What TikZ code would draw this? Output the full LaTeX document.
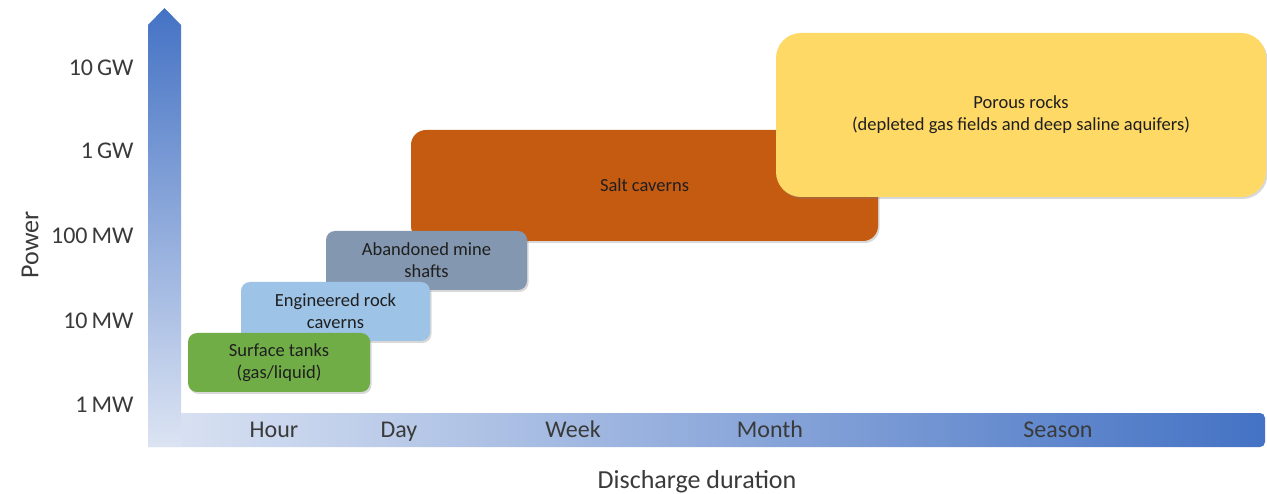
\documentclass[tikz,border=0pt]{standalone}
\usepackage{fontspec}
\setmainfont{Carlito}
\usetikzlibrary{shadows}

\definecolor{axisdark}{HTML}{4472C4}
\definecolor{axislight}{HTML}{DCE4F3}
\definecolor{tankgreen}{HTML}{70AD47}
\definecolor{rockblue}{HTML}{9DC3E6}
\definecolor{minegrey}{HTML}{8497B0}
\definecolor{saltorange}{HTML}{C55A11}
\definecolor{porousyellow}{HTML}{FFD966}
\definecolor{labelgrey}{HTML}{3A3A3A}

\tikzset{
  store/.style={rounded corners=9pt, align=center, text=black!88, inner sep=0pt,
    font=\fontsize{18.5}{22}\selectfont,
    drop shadow={shadow xshift=1.5pt, shadow yshift=-2pt, opacity=0.3}},
  powlab/.style={anchor=base east, text=labelgrey, font=\fontsize{24}{28}\selectfont},
  durlab/.style={anchor=base, text=labelgrey, font=\fontsize{24}{28}\selectfont},
  axtitle/.style={text=labelgrey, font=\fontsize{26}{30}\selectfont}
}

\begin{document}
\begin{tikzpicture}[x=1pt,y=-1pt]
        \useasboundingbox (0,0) rectangle (1267,494);
        \fill[white] (0,0) rectangle (1267,494);
        % axes
        \shade[left color=axislight, right color=axisdark] (148,447) -- (148,413) [rounded corners=5pt] -- (1265,413) -- (1265,447) [sharp corners] -- cycle;
        \shade[bottom color=axislight, top color=axisdark] (148,447) -- (148,25) -- (164.5,8) -- (181,25) -- (181,447) -- cycle;
        % power levels
        \node[powlab] (p10g) at (137,76) {10\,GW};
        \node[powlab] (p1g) at (137,159) {1\,GW};
        \node[powlab] (p100m) at (137,244) {100\,MW};
        \node[powlab] (p10m) at (137,329) {10\,MW};
        \node[powlab] (p1m) at (137,413) {1\,MW};
        % durations
        \node[durlab] (hour) at (274,437) {Hour};
        \node[durlab] (day) at (399,437) {Day};
        \node[durlab] (week) at (573,437) {Week};
        \node[durlab] (month) at (770,437) {Month};
        \node[durlab] (season) at (1058,437) {Season};
        % axis titles
        \node[axtitle, rotate=90] (power) at (30,245) {Power};
        \node[axtitle, anchor=base] (discharge) at (697,488) {Discharge duration};
        % storage types
        \node[store, fill=saltorange, rounded corners=15pt, minimum width=467pt, minimum height=111pt] (salt) at (644.5,185.5) {Salt caverns};
        \node[store, fill=porousyellow, rounded corners=25pt, minimum width=490pt, minimum height=164pt] (porous) at (1021,115) {Porous rocks\\(depleted gas fields and deep saline aquifers)};
        \node[store, fill=minegrey, minimum width=201pt, minimum height=59pt] (mine) at (426.5,260.5) {Abandoned mine\\shafts};
        \node[store, fill=rockblue, minimum width=189pt, minimum height=59pt] (rock) at (335.5,311.5) {Engineered rock\\caverns};
        \node[store, fill=tankgreen, minimum width=182pt, minimum height=59pt] (tanks) at (279,362.5) {Surface tanks\\(gas/liquid)};
\end{tikzpicture}
\end{document}
